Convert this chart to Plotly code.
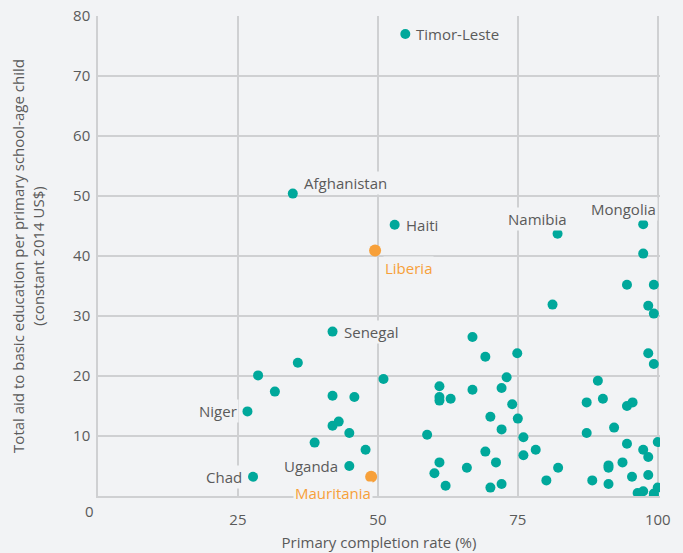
import plotly.graph_objects as go

# Labelled countries
lab_names = ["Timor-Leste", "Afghanistan", "Haiti", "Namibia", "Mongolia",
             "Senegal", "Niger", "Chad", "Uganda"]
lab_x = [54.9, 34.8, 53.0, 82.1, 97.4, 41.9, 26.7, 27.7, 44.9]
lab_y = [77.0, 50.4, 45.2, 43.7, 45.3, 27.4, 14.1, 3.2, 5.0]

# Highlighted countries
hi_names = ["Liberia", "Mauritania"]
hi_x = [49.5, 48.8]
hi_y = [40.9, 3.2]

# Other countries (unlabelled)
oth_x = [35.7, 28.6, 31.6, 41.9, 45.8, 51.0, 41.9, 43.0, 44.9, 38.7, 47.8, 58.8,
         81.2, 98.3, 99.3, 66.9, 69.2, 74.9, 98.3, 99.3, 73.0, 61.0, 66.9, 72.1,
         89.3, 61.0, 61.0, 63.0, 74.0, 87.3, 90.2, 94.5, 95.5, 70.1, 75.0, 72.1,
         87.3, 92.2, 76.0, 94.5, 100.0, 78.2, 69.2, 76.0, 97.4, 98.3, 61.0, 71.1,
         93.7, 91.2, 91.2, 60.1, 65.9, 82.2, 62.1, 70.1, 72.1, 80.1, 88.3, 91.2,
         95.4, 98.3, 96.4, 97.4, 99.3, 99.3, 100.0, 97.4, 94.5, 99.3]
oth_y = [22.2, 20.1, 17.4, 16.7, 16.5, 19.5, 11.7, 12.4, 10.5, 8.9, 7.7, 10.2,
         31.9, 31.7, 30.4, 26.5, 23.2, 23.8, 23.8, 22.0, 19.8, 18.3, 17.7, 18.0,
         19.2, 16.5, 15.9, 16.2, 15.3, 15.6, 16.2, 15.0, 15.6, 13.2, 12.9, 11.1,
         10.5, 11.4, 9.8, 8.7, 9.0, 7.7, 7.4, 6.8, 7.7, 6.5, 5.6, 5.6,
         5.6, 5.1, 4.7, 3.8, 4.7, 4.7, 1.7, 1.4, 2.0, 2.6, 2.6, 2.0,
         3.2, 3.5, 0.5, 0.8, 0.4, 0.1, 1.4, 40.4, 35.2, 35.2]

x_ticks = [25, 50, 75, 100]
y_ticks = [10, 20, 30, 40, 50, 60, 70, 80]

BG = "#f2f3f5"
TEAL = "#00a89b"
ORANGE = "#f7a03a"
TXT = "#5a5a5a"
GRID = "#cfd0d2"
FONT = "Open Sans"
FS = 15

fig = go.Figure()
fig.add_trace(go.Scatter(x=oth_x + lab_x, y=oth_y + lab_y, mode="markers",
                         marker=dict(color=TEAL, size=10), hoverinfo="x+y",
                         showlegend=False))
fig.add_trace(go.Scatter(x=hi_x, y=hi_y, mode="markers",
                         marker=dict(color=ORANGE, size=12), showlegend=False))

# label placement (xanchor, yanchor, xshift, yshift)
pos = {
    "Timor-Leste": ("left", "middle", 9, 0),
    "Afghanistan": ("left", "middle", 9, 11),
    "Haiti": ("left", "middle", 9, 0),
    "Namibia": ("right", "middle", 11, 15),
    "Mongolia": ("right", "middle", 15, 15),
    "Senegal": ("left", "middle", 9, 0),
    "Niger": ("right", "middle", -8, 0),
    "Chad": ("right", "middle", -9, 0),
    "Uganda": ("right", "middle", -9, 0),
    "Liberia": ("left", "middle", 8, -17),
    "Mauritania": ("right", "middle", 2, -16),
}
for n, x, y in zip(lab_names, lab_x, lab_y):
    xa, ya, xs, ys = pos[n]
    fig.add_annotation(x=x, y=y, text=n, showarrow=False, xanchor=xa, yanchor=ya,
                       xshift=xs, yshift=ys, bgcolor=BG, borderpad=1,
                       font=dict(family=FONT, size=FS, color=TXT))
for n, x, y in zip(hi_names, hi_x, hi_y):
    xa, ya, xs, ys = pos[n]
    fig.add_annotation(x=x, y=y, text=n, showarrow=False, xanchor=xa, yanchor=ya,
                       xshift=xs, yshift=ys, bgcolor=BG, borderpad=1,
                       font=dict(family=FONT, size=FS, color=ORANGE))

# corner zero label
fig.add_annotation(x=0, y=0, xref="x", yref="y", text="0", showarrow=False,
                   xanchor="right", yanchor="top", xshift=-2, yshift=-3,
                   font=dict(family=FONT, size=FS, color=TXT))

fig.update_layout(
    width=683, height=553,
    margin=dict(l=98, r=23, t=16, b=57, autoexpand=False),
    paper_bgcolor=BG, plot_bgcolor=BG,
    font=dict(family=FONT, size=FS, color=TXT),
    showlegend=False,
    xaxis=dict(range=[0, 100.4], tickvals=x_ticks, ticktext=[str(v) for v in x_ticks],
               showgrid=True, gridcolor=GRID, gridwidth=1.5, zeroline=False,
               showline=True, linecolor=GRID, linewidth=1.5, ticks="", ticklen=0,
               ticklabelstandoff=9, automargin=False,
               title=dict(text="Primary completion rate (%)", standoff=10,
                          font=dict(size=FS, color=TXT)),
               tickfont=dict(size=FS, color=TXT)),
    yaxis=dict(range=[0, 80], tickvals=y_ticks, ticktext=[str(v) for v in y_ticks],
               showgrid=True, gridcolor=GRID, gridwidth=1.5, zeroline=False,
               showline=True, linecolor=GRID, linewidth=1.5, ticks="",
               ticklabelstandoff=3, automargin=False,
               title=dict(text="Total aid to basic education per primary school-age child<br>(constant 2014 US$)",
                          standoff=25, font=dict(size=FS, color=TXT)),
               tickfont=dict(size=FS, color=TXT)),
)

fig.write_html("out.html", config={"displayModeBar": False})

# remove default page margin so the figure sits at the top-left corner
with open("out.html", "r", encoding="utf-8") as f:
    html = f.read()
html = html.replace("<body>", "<body style=\"margin:0;padding:0;\">", 1)
html = html.replace("<head>", "<head><style>html,body{margin:0;padding:0;background:#f2f3f5;}</style>", 1)
with open("out.html", "w", encoding="utf-8") as f:
    f.write(html)
